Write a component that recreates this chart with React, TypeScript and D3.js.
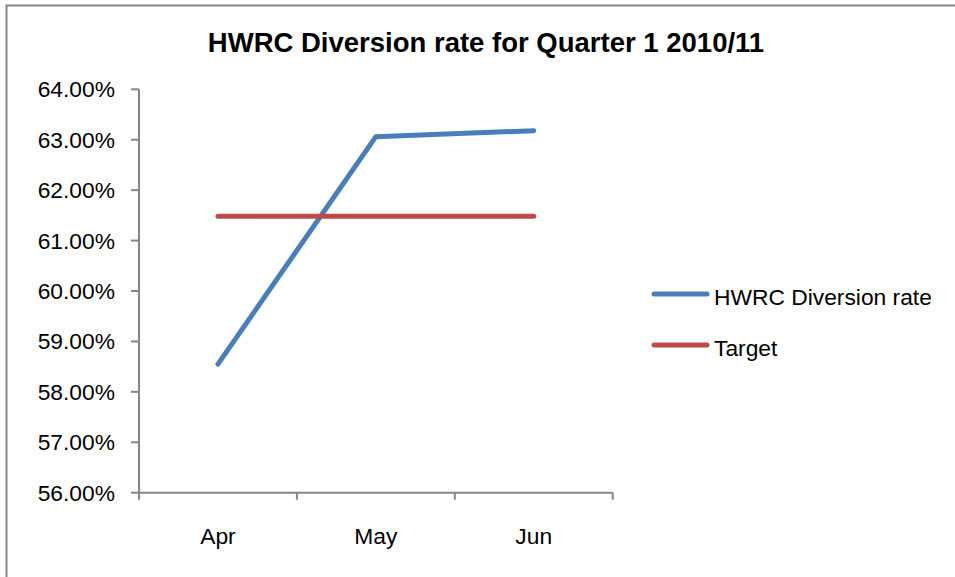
import * as d3 from 'd3';

// chart values
const months = ['Apr', 'May', 'Jun'];
const diversionRate = [58.55, 63.06, 63.18];
const target = [61.48, 61.48, 61.48];
const yTicks = [56, 57, 58, 59, 60, 61, 62, 63, 64];

const series = [
  { name: 'HWRC Diversion rate', values: diversionRate, color: '#4a7ebb' },
  { name: 'Target', values: target, color: '#be4b48' },
];

const width = 955;
const height = 577;
const font = "'Liberation Sans', Arial, sans-serif";
const axisColor = '#868686';

export default function App() {
  const x = d3.scaleBand<string>().domain(months).range([139, 612.7]);
  const y = d3.scaleLinear().domain([56, 64]).range([492.7, 89.3]);

  const line = d3
    .line<number>()
    .x((_, i) => (x(months[i]) ?? 0) + x.bandwidth() / 2)
    .y((d) => y(d));

  const fmt = d3.format('.2f');
  const bandEdges = months.map((m) => x(m) ?? 0).concat([x.range()[1]]);

  return (
    <svg
      width={width}
      height={height}
      style={{ position: 'absolute', left: 0, top: 0, background: '#fff' }}
      fontFamily={font}
    >
      {/* chart frame, right and bottom edges run off the picture */}
      <rect x={6.5} y={5.5} width={width + 20} height={height + 20} fill='#fff' stroke={axisColor} strokeWidth={2} />

      <text x={486} y={51.5} textAnchor='middle' fontSize={27.5} fontWeight='bold' fill='#000'>
        HWRC Diversion rate for Quarter 1 2010/11
      </text>

      {/* y axis */}
      <line x1={139} x2={139} y1={y(64)} y2={y(56)} stroke={axisColor} strokeWidth={2} />
      {yTicks.map((t) => (
        <g key={t}>
          <line x1={131} x2={139} y1={y(t)} y2={y(t)} stroke={axisColor} strokeWidth={2} />
          <text x={115} y={y(t) + 8} textAnchor='end' fontSize={22.8} fill='#000'>
            {fmt(t)}%
          </text>
        </g>
      ))}

      {/* x axis */}
      <line x1={139} x2={x.range()[1]} y1={y(56)} y2={y(56)} stroke={axisColor} strokeWidth={2} />
      {bandEdges.map((e, i) => (
        <line key={i} x1={e} x2={e} y1={y(56)} y2={y(56) + 7} stroke={axisColor} strokeWidth={2} />
      ))}
      {months.map((m) => (
        <text key={m} x={(x(m) ?? 0) + x.bandwidth() / 2} y={544} textAnchor='middle' fontSize={22.8} fill='#000'>
          {m}
        </text>
      ))}

      {/* series */}
      {series.map((s) => (
        <path
          key={s.name}
          d={line(s.values) ?? ''}
          fill='none'
          stroke={s.color}
          strokeWidth={5}
          strokeLinecap='round'
          strokeLinejoin='round'
        />
      ))}

      {/* legend */}
      {series.map((s, i) => (
        <g key={s.name} transform={`translate(0,${294 + i * 51})`}>
          <line x1={654} x2={707} y1={0} y2={0} stroke={s.color} strokeWidth={5} strokeLinecap='round' />
          <text x={714} y={11} fontSize={22.8} fill='#000'>
            {s.name}
          </text>
        </g>
      ))}
    </svg>
  );
}
